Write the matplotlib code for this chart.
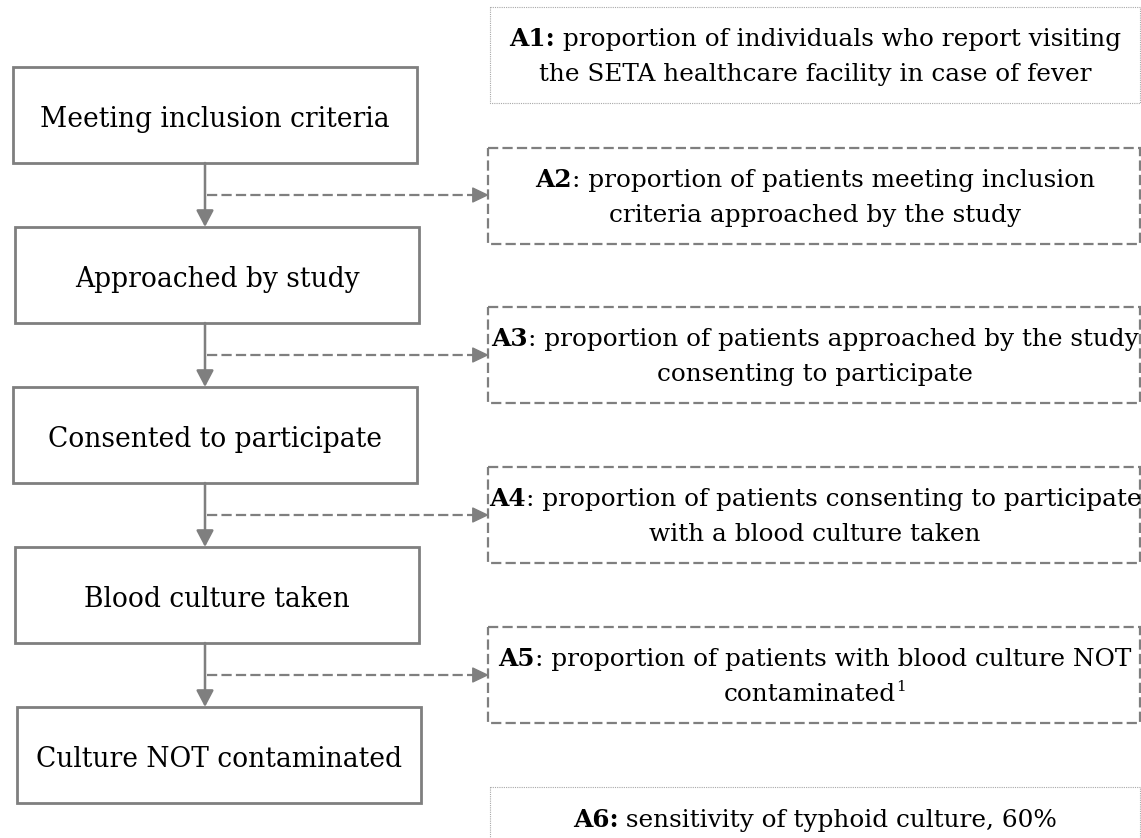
import matplotlib
matplotlib.use("Agg")
import matplotlib.pyplot as plt
from matplotlib.patches import Rectangle
from matplotlib import font_manager

# ---------------- data ----------------
stages = ["Meeting inclusion criteria", "Approached by study",
          "Consented to participate", "Blood culture taken",
          "Culture NOT contaminated"]
param_ids = ["A1:", "A2", "A3", "A4", "A5", "A6:"]
param_lines = [
    [" proportion of individuals who report visiting",
     "the SETA healthcare facility in case of fever"],
    [": proportion of patients meeting inclusion",
     "criteria approached by the study"],
    [": proportion of patients approached by the study",
     "consenting to participate"],
    [": proportion of patients consenting to participate",
     "with a blood culture taken"],
    [": proportion of patients with blood culture NOT",
     "contaminated"],
    [" sensitivity of typhoid culture, 60%"],
]
footnote_marks = ["", "", "", "", "1", ""]
param_styles = ["dotted", "dashed", "dashed", "dashed", "dashed", "dotted"]

# ---------------- layout ----------------
W, H = 1141, 838
FONT = "DejaVu Serif"
try:
    font_manager.findfont(font_manager.FontProperties(family="DejaVu Serif Condensed"),
                          fallback_to_default=False)
    FONT = "DejaVu Serif Condensed"
except Exception:
    FONT = "DejaVu Serif"
GRAY = "#7f7f7f"
LIGHT = "#a8a8a8"

fig = plt.figure(figsize=(W / 100, H / 100), dpi=100)
ax = fig.add_axes([0, 0, 1, 1])
ax.set_xlim(0, W)
ax.set_ylim(H, 0)
ax.axis("off")
r = fig.canvas.get_renderer()


def text_width(s, size, weight="normal"):
    t = ax.text(0, 0, s, fontsize=size, fontweight=weight, family=FONT)
    w = t.get_window_extent(renderer=r).width
    t.remove()
    return w


# fit font sizes to widths seen in the reference
left_size = 20 * 348 / text_width(stages[0], 20)
right_size = 20 * 610 / (text_width(param_ids[0], 20, "bold")
                         + text_width(param_lines[0][0], 20))


def rich_line(cx, base, segs, size):
    items = []
    for s, weight, sup in segs:
        fs = size * 0.62 if sup else size
        t = ax.text(0, base - (10 if sup else 0), s, fontsize=fs,
                    fontweight=weight, family=FONT, va="baseline",
                    ha="left", color="black")
        items.append((t, t.get_window_extent(renderer=r).width))
    total = sum(w for _, w in items)
    x = cx - total / 2
    for t, w in items:
        t.set_x(x)
        x += w


# left column boxes
box_x = [13, 15, 13, 15, 17]
box_w, box_h = 404, 96
top0, step = 67, 160
arrow_x = 205
for i, label in enumerate(stages):
    top = top0 + i * step
    ax.add_patch(Rectangle((box_x[i], top), box_w, box_h, fc="white",
                           ec=GRAY, lw=2.0, zorder=2))
    ax.text(box_x[i] + box_w / 2, top + box_h / 2 + 12, label,
            fontsize=left_size, family=FONT, ha="center", va="baseline",
            color="black", zorder=3)
    if i < len(stages) - 1:
        nxt = top0 + (i + 1) * step
        ax.annotate("", xy=(arrow_x, nxt), xytext=(arrow_x, top + box_h),
                    arrowprops=dict(arrowstyle="-|>,head_length=0.4,head_width=0.21",
                                    mutation_scale=25, color=GRAY, lw=1.8,
                                    shrinkA=0, shrinkB=0), zorder=3)
        # dashed branch arrow to parameter box
        ym = top + box_h + (nxt - top - box_h) / 2
        ax.plot([arrow_x + 2, 478], [ym, ym], color=GRAY, lw=1.6,
                linestyle=(0, (4.6, 1.9)), solid_capstyle="butt",
                dash_capstyle="butt", zorder=3)
        ax.annotate("", xy=(489, ym), xytext=(475, ym),
                    arrowprops=dict(arrowstyle="-|>,head_length=0.42,head_width=0.2",
                                    mutation_scale=25, color=GRAY, lw=1.0,
                                    shrinkA=0, shrinkB=0), zorder=3)

# right column parameter boxes
px0, px1 = 488, 1140
ptops = [7, 148, 307, 467, 627, 787]
ph = 96
cx = (px0 + px1) / 2 + 1
for i, pid in enumerate(param_ids):
    top = ptops[i]
    if param_styles[i] == "dotted":
        hgt = ph if i < len(param_ids) - 1 else 200
        ax.add_patch(Rectangle((px0 + 2, top), px1 - px0 - 2, hgt, fill=False,
                               ec=LIGHT, lw=0.8, linestyle=(0, (1, 1)), zorder=2))
    else:
        ax.add_patch(Rectangle((px0, top), px1 - px0, ph, fill=False,
                               ec=GRAY, lw=1.6, linestyle=(0, (4.6, 1.9)), zorder=2))
    lines = param_lines[i]
    if len(lines) == 1:
        rich_line(cx, top + 40, [(pid, "bold", False), (lines[0], "normal", False)],
                  right_size)
    else:
        center = top + ph / 2
        rich_line(cx, center - 9, [(pid, "bold", False), (lines[0], "normal", False)],
                  right_size)
        segs = [(lines[1], "normal", False)]
        if footnote_marks[i]:
            segs.append((footnote_marks[i], "normal", True))
        rich_line(cx, center + 26, segs, right_size)

fig.savefig("out.png", dpi=100)
